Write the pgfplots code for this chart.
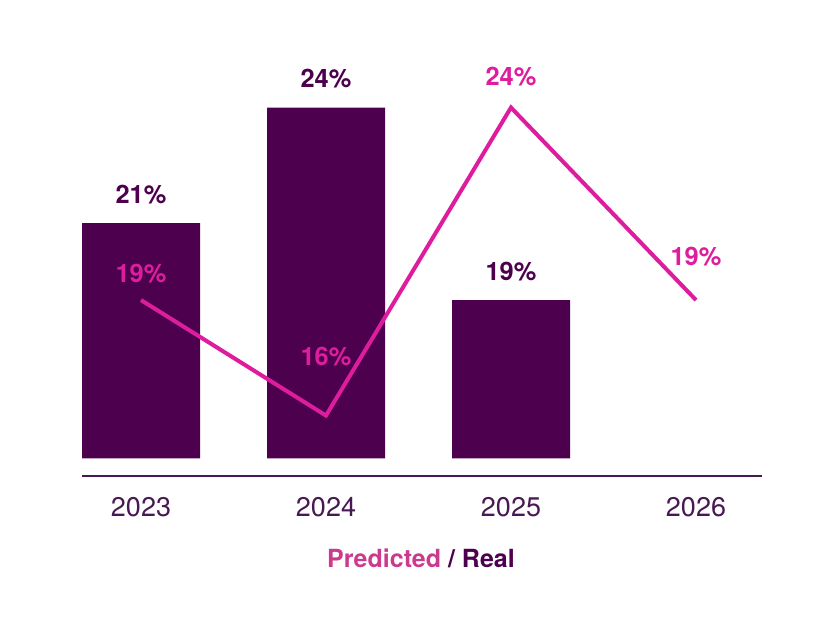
\documentclass[border=0pt]{standalone}
\usepackage{pgfplots}
\pgfplotsset{compat=1.18}
\usepackage{pgfplotstable}
\usepackage{fontspec}
\setmainfont{TeX Gyre Heros}
\definecolor{barc}{RGB}{77,0,77}
\definecolor{linec}{RGB}{222,28,158}
\definecolor{tickc}{RGB}{72,24,82}
\definecolor{predc}{RGB}{204,58,142}

\pgfplotstableread{
x real
0 21
1 24
2 19
}\realdata
\pgfplotstableread{
x pred off
0 19 9
1 16 25
2 24 11
3 19 17.5
}\preddata

\begin{document}
\begin{tikzpicture}
\path[use as bounding box] (0,0) rectangle (420pt,320pt);
\begin{axis}[
  at={(24.25pt,90.85pt)}, anchor=south west,
  scale only axis, width=370pt, height=211.75pt,
  xmin=-0.5, xmax=3.5, ymin=14.89, ymax=25.89,
  axis line style={draw=none},
  xtick={0,1,2,3}, xticklabels={2023,2024,2025,2026},
  ytick=\empty,
  major tick length=0pt,
  /pgf/number format/assume math mode=true,
  xticklabel style={font=\fontsize{13.5}{16}\selectfont, text=tickc, anchor=base, yshift=-29.35pt},
  clip=true,
]
\addplot[ybar, bar width=59pt, fill=barc, draw=none,
  point meta=y,
  nodes near coords={\pgfmathprintnumber[fixed,precision=0,assume math mode=true]{\pgfplotspointmeta}\%},
  every node near coord/.append style={anchor=base, yshift=10pt, text=barc, font=\fontsize{12.7}{15}\selectfont\bfseries},
] table[x=x,y=real] {\realdata};
\addplot[linec, line width=2pt, mark=none,
  point meta=y,
  visualization depends on={\thisrow{off} \as \myoff},
  nodes near coords={\pgfmathprintnumber[fixed,precision=0,assume math mode=true]{\pgfplotspointmeta}\%},
  every node near coord/.append style={anchor=base, yshift=\myoff, text=linec, font=\fontsize{12.7}{15}\selectfont\bfseries},
] table[x=x,y=pred] {\preddata};
\coordinate (A) at (axis cs:-0.319,14.438);
\coordinate (B) at (axis cs:3.357,14.438);
\end{axis}
\draw[tickc, line width=1pt] (A) -- (B);
\node[anchor=base, font=\fontsize{12.5}{15}\selectfont\bfseries] at (210.5pt,36pt) {\textcolor{predc}{Predicted} \textcolor{barc}{/ Real}};
\end{tikzpicture}
\end{document}
